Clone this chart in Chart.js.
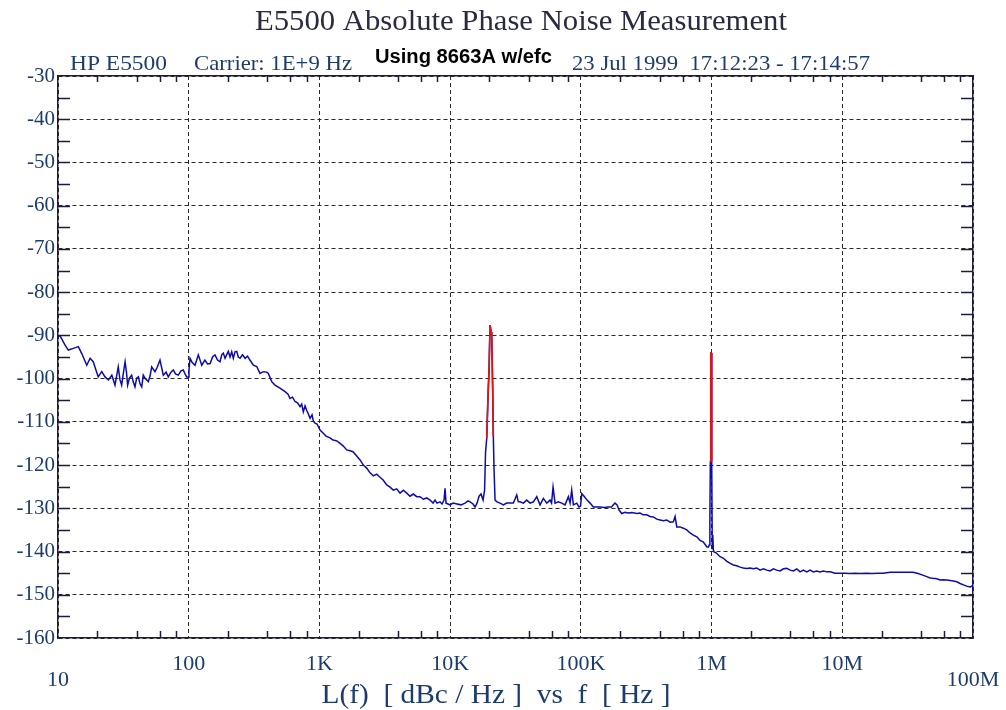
<!DOCTYPE html>
<html>
<head>
<meta charset="utf-8">
<title>E5500 Absolute Phase Noise Measurement</title>
<script src="https://cdn.jsdelivr.net/npm/chart.js@4.4.0/dist/chart.umd.min.js"></script>
<style>
    html, body { margin: 0; padding: 0; background: #ffffff; }
</style>
</head>
<body>
<canvas id="phase-noise-chart" width="1006" height="710"></canvas>
<script>
// offset frequency [Hz] and L(f) [dBc/Hz], one decade at a time
const traceFreq = [
    10, 10.4, 11.3, 12.0, 13.1, 14.3, 15.2, 16.6, 17.6, 18.6,
    20.3, 21.6, 22.9, 24.3, 25.8, 27.3, 28.9, 29.8, 30.7, 31.7,
    32.6, 33.4, 34.1, 35.2, 36.6, 37.7, 38.8, 40.0, 41.2, 42.4,
    43.7, 44.9, 46.3, 49.1, 50.6, 52.1, 55.2, 57.2, 60.3, 63.9,
    67.1, 69.8, 73.2, 76.2, 79.3, 83.2, 87.3, 90.9, 93.7, 96.5,
    99.3, 100.5,
    102.3, 106, 111.7, 118.4, 125.8, 133, 139.3, 146, 152.1, 158.9,
    166.1, 173.6, 178.9, 183.9, 189.6, 195, 200.9, 207, 213.3, 219.4,
    226.1, 232.9, 239.6, 247, 258, 270, 281.8, 294, 312.1, 331.4,
    351, 372.2, 395.3, 406.5, 431.5, 457, 499, 545.7, 575, 595.7,
    622.6, 650.7, 680, 711, 732, 753, 776, 799, 823, 848,
    878, 898, 925, 959, 1011,
    1066, 1123, 1205, 1271, 1357, 1438, 1524, 1617, 1715, 1807,
    1929, 2045, 2167, 2300, 2439, 2585, 2744, 2908, 3083, 3272,
    3468, 3677, 3903, 4136, 4385, 4655, 4934, 5230, 5551, 5885,
    6237, 6622, 7020, 7399, 7662, 7935, 8370, 8670, 8981, 9141,
    9303, 9637, 9982,
    10520, 11290, 12120, 13000, 13710, 14200, 14970, 15510, 16060, 16640,
    17240, 17860, 18340, 18660, 19050, 19500, 19840, 20200, 20560, 20810,
    21180, 21400, 21670, 22060, 22850, 24080, 25530, 27060, 28720, 30450,
    32330, 33240, 34250, 36320, 38550, 40870, 43340, 45970, 48730, 51660,
    54840, 58120, 59690, 61270, 63470, 67180, 71400, 75700, 80250, 82670,
    85110, 87620, 93020, 96880, 99470,
    101600, 105800, 111500, 117600, 124600, 133000, 140300, 150500, 161500, 171700,
    177300, 182600, 189200, 196000, 205500, 217900, 229600, 246500, 267700, 283800,
    299200, 319300, 338400, 358700, 380700, 403600, 427800, 454300, 481400, 510400,
    525900, 541800, 574100, 608400, 646000, 684600, 725600, 770300, 816600, 865700,
    918900, 945100, 960000, 970500, 979000, 984200, 989600, 994800, 1000000, 1005000,
    1012500, 1021400, 1032000, 1045000,
    1082000, 1161000, 1226000, 1302000, 1379000, 1468000, 1558000, 1652000, 1751000, 1859000,
    1970000, 2089000, 2216000, 2350000, 2490000, 2645000, 2802000, 2971000, 3154000, 3344000,
    3543000, 3761000, 3987000, 4226000, 4487000, 4754000, 5040000, 5351000, 5671000, 6009000,
    6380000, 6761000, 7166000, 7610000, 8066000, 8809000, 9618000, 10510000, 11470000, 12530000,
    13680000, 15400000, 16900000, 18790000, 20520000, 23210000, 25790000, 28680000, 31870000, 34810000,
    38010000, 40790000, 44320000, 46970000, 49500000, 52840000, 56000000, 59360000, 63040000, 66780000,
    70800000, 75160000, 79670000, 84400000, 89650000, 95000000, 98400000, 100000000
];
const traceDbc = [
    -90.1, -90.2, -92.2, -93.4, -93.0, -92.6, -94.2, -96.9, -95.3, -96.1,
    -99.6, -98.4, -99.6, -100.3, -99.2, -101.5, -97.3, -100.3, -101.5, -98.5,
    -96.1, -98.5, -101.5, -99.9, -99.2, -100.8, -101.9, -99.9, -99.6, -101.2,
    -101.9, -99.2, -99.9, -100.7, -99.4, -97.3, -98.4, -97.5, -95.7, -99.2,
    -98.5, -99.6, -98.5, -98.0, -98.9, -99.2, -98.2, -98.0, -98.9, -99.6,
    -99.6, -98.0,
    -95.3, -96.2, -96.9, -94.5, -96.9, -95.7, -96.6, -96.5, -95.0, -94.5,
    -95.7, -96.1, -94.5, -94.1, -95.3, -94.5, -93.7, -95.0, -93.8, -95.3,
    -93.8, -93.7, -95.0, -95.3, -94.5, -95.3, -94.8, -95.7, -96.9, -97.2,
    -98.8, -98.4, -98.5, -98.8, -100.7, -101.5, -102.2, -103.0, -103.6, -104.6,
    -104.3, -105.3, -105.6, -106.5, -105.9, -107.7, -106.3, -107.3, -108.2, -109.2,
    -108.4, -109.8, -110.3, -110.5, -111.9,
    -112.6, -113.3, -113.7, -114.2, -114.4, -115.0, -115.6, -116.5, -116.7, -116.9,
    -117.9, -118.8, -120.0, -120.7, -121.8, -122.5, -122.1, -122.8, -123.5, -124.6,
    -125.1, -125.8, -125.5, -126.5, -125.8, -126.5, -127.2, -126.7, -127.3, -127.3,
    -127.9, -127.6, -128.1, -128.8, -128.1, -128.8, -128.5, -129.0, -128.1, -125.4,
    -128.8, -129.0, -129.2,
    -128.8, -129.0, -129.2, -128.8, -128.3, -128.5, -129.0, -129.7, -128.8, -127.2,
    -126.7, -128.1, -125.8, -117.0, -113.8, -103.8, -98.0, -87.6, -89.2, -90.3,
    -103.3, -113.4, -121.1, -128.1, -128.5, -128.8, -129.2, -128.8, -128.8, -128.8,
    -126.9, -128.5, -128.5, -128.8, -128.1, -128.8, -128.5, -127.3, -129.2, -127.7,
    -128.8, -128.1, -128.8, -125.1, -128.8, -128.5, -128.8, -129.2, -127.3, -128.8,
    -125.8, -129.2, -128.8, -129.7, -129.5,
    -126.6, -127.2, -128.1, -128.8, -129.7, -129.7, -129.7, -129.8, -129.7, -129.7,
    -129.2, -128.8, -129.2, -130.4, -131.2, -130.9, -131.1, -131.0, -131.2, -131.1,
    -131.5, -131.5, -131.9, -132.0, -132.5, -132.7, -132.9, -132.7, -133.2, -133.1,
    -131.9, -134.3, -134.3, -134.6, -135.0, -135.7, -136.2, -136.6, -137.4, -137.8,
    -138.9, -139.0, -138.5, -132.7, -119.2, -104.9, -94.1, -94.1, -109.6, -119.2,
    -139.3, -136.2, -139.6, -140.1,
    -140.3, -141.2, -141.5, -142.2, -142.7, -143.1, -143.3, -143.6, -143.8, -143.9,
    -143.8, -144.0, -143.8, -144.3, -144.0, -144.3, -144.5, -144.0, -144.3, -144.5,
    -144.0, -143.9, -144.3, -144.5, -144.0, -144.7, -144.3, -144.7, -144.3, -144.7,
    -144.5, -144.7, -144.5, -144.7, -144.7, -145.0, -145.0, -145.0, -145.1, -145.0,
    -145.1, -145.0, -145.1, -145.0, -145.0, -144.8, -144.8, -144.8, -144.8, -144.8,
    -145.1, -145.4, -145.8, -146.1, -146.2, -146.3, -146.6, -146.5, -146.6, -146.7,
    -146.8, -147.0, -147.4, -147.7, -148.0, -148.2, -148.0, -147.5
];

// spurs (drawn red), null splits the two of them
const spurFreq = [19050, 19500, 19840, 20200, 20560, 20810, 21180, 21400, 100000,
                  979000, 984200, 989600, 994800, 1000000, 1005000];
const spurDbc = [-113.8, -103.8, -98.0, -87.6, -89.2, -90.3, -103.3, -113.4, null,
                 -119.2, -104.9, -94.1, -94.1, -109.6, -119.2];

const xTickValues = [10, 100, 1e3, 1e4, 1e5, 1e6, 1e7, 1e8];
const xTickLabels = ['10', '100', '1K', '10K', '100K', '1M', '10M', '100M'];
const yTickValues = [-160, -150, -140, -130, -120, -110, -100, -90, -80, -70, -60, -50, -40, -30];

const chartTitle = 'E5500 Absolute Phase Noise Measurement';
const headerLeft = ['HP E5500', 'Carrier: 1E+9 Hz'];
const headerNote = 'Using 8663A w/efc';
const headerDate = '23 Jul 1999  17:12:23 - 17:14:57';
const xAxisTitle = 'L(f)  [ dBc / Hz ]  vs  f  [ Hz ]';

const FRAME = '#1c1c3e';
const GRID = '#2b2b2b';
const LABEL_BLUE = '#1d3c6c';
const SERIF = '"Liberation Serif", "Times New Roman", serif';

// small inward ticks: 2,4,6,8 per decade on top/bottom, every 5 dB left/right
let xMinorTicks = [];
for (let d = 10; d < 1e8; d *= 10) {
    [2, 4, 6, 8].forEach(m => xMinorTicks.push(m * d));
}
let yMinorTicks = [];
for (let v = -155; v <= -35; v += 5) yMinorTicks.push(v);

const minorTicks = {
    id: 'minorTicks',
    beforeDatasetsDraw(chart) {
        const { ctx, chartArea, scales } = chart;
        ctx.save();
        ctx.strokeStyle = FRAME;
        ctx.lineWidth = 1.5;
        ctx.beginPath();
        xMinorTicks.forEach(v => {
            let x = Math.round(scales.x.getPixelForValue(v)) + 0.5;
            ctx.moveTo(x, chartArea.top);
            ctx.lineTo(x, chartArea.top + 6);
            ctx.moveTo(x, chartArea.bottom);
            ctx.lineTo(x, chartArea.bottom - 7);
        });
        yMinorTicks.forEach(v => {
            let y = Math.round(scales.y.getPixelForValue(v)) + 0.5;
            ctx.moveTo(chartArea.left, y);
            ctx.lineTo(chartArea.left + 12, y);
            ctx.moveTo(chartArea.right, y);
            ctx.lineTo(chartArea.right - 12, y);
        });
        ctx.stroke();
        ctx.restore();
    }
};

// the plotter font is wider than Liberation Serif, so stretch the text to its width
function stretchedText(ctx, text, x, y, width, align) {
    let natural = ctx.measureText(text).width;
    let sx = width / natural;
    let left = align === 'center' ? x - width / 2 : x;
    ctx.save();
    ctx.textAlign = 'left';
    ctx.translate(left, y);
    ctx.scale(sx, 1);
    ctx.fillText(text, 0, 0);
    ctx.restore();
}

const headerText = {
    id: 'headerText',
    afterDraw(chart) {
        const ctx = chart.ctx;
        ctx.save();
        ctx.textBaseline = 'alphabetic';

        ctx.fillStyle = '#2a2a40';
        ctx.font = '30px ' + SERIF;
        stretchedText(ctx, chartTitle, 521, 30, 532, 'center');

        ctx.fillStyle = LABEL_BLUE;
        ctx.font = '21px ' + SERIF;
        stretchedText(ctx, headerLeft[0], 70, 70, 97);
        stretchedText(ctx, headerLeft[1], 194, 70, 158);
        stretchedText(ctx, headerDate, 572, 70, 298);

        ctx.fillStyle = '#000000';
        ctx.font = 'bold 20px "Liberation Sans", Arial, sans-serif';
        stretchedText(ctx, headerNote, 375, 63, 177);

        ctx.fillStyle = LABEL_BLUE;
        ctx.font = '28px ' + SERIF;
        stretchedText(ctx, xAxisTitle, 496, 703, 349, 'center');
        ctx.restore();
    }
};

const ctx = document.getElementById('phase-noise-chart').getContext('2d');
const chart = new Chart(ctx, {
    type: 'line',
    data: {
        datasets: [
            {
                label: 'spurs',
                data: spurFreq.map((f, i) => ({ x: f, y: spurDbc[i] })),
                borderColor: '#e01414',
                borderWidth: 1.7,
                pointRadius: 0,
                tension: 0,
                spanGaps: false
            },
            {
                label: 'L(f)',
                data: traceFreq.map((f, i) => ({ x: f, y: traceDbc[i] })),
                borderColor: '#0c0ca8',
                borderWidth: 1.5,
                pointRadius: 0,
                tension: 0
            }
        ]
    },
    options: {
        responsive: false,
        animation: false,
        devicePixelRatio: 1,
        layout: { padding: 0 },
        scales: {
            x: {
                type: 'logarithmic',
                position: 'bottom',
                min: 10,
                max: 1e8,
                afterBuildTicks: scale => {
                    scale.ticks = xTickValues.map(v => ({ value: v }));
                },
                afterFit: scale => {
                    scale.height = 72;
                    // keep the end labels from shrinking the plot
                    scale.paddingLeft = 0;
                    scale.paddingRight = 0;
                },
                ticks: {
                    autoSkip: false,
                    maxRotation: 0,
                    padding: 19,
                    color: LABEL_BLUE,
                    font: { family: SERIF, size: 22, lineHeight: 0.7 },
                    callback: function(value, index) {
                        let label = xTickLabels[index];
                        // end labels sit one line lower
                        if (index === 0 || index === xTickLabels.length - 1) return ['', label];
                        return label;
                    }
                },
                grid: { color: GRID, lineWidth: 1, drawTicks: false },
                border: { display: true, color: FRAME, width: 1.5, dash: [4, 3] }
            },
            xTop: {
                type: 'logarithmic',
                position: 'top',
                min: 10,
                max: 1e8,
                afterFit: scale => { scale.height = 76; },
                ticks: { display: false },
                grid: { display: false },
                border: { display: true, color: FRAME, width: 1.5 }
            },
            y: {
                type: 'linear',
                position: 'left',
                min: -160,
                max: -30,
                afterBuildTicks: scale => {
                    scale.ticks = yTickValues.map(v => ({ value: v }));
                },
                afterFit: scale => { scale.width = 58; },
                ticks: {
                    padding: 3,
                    color: LABEL_BLUE,
                    font: { family: SERIF, size: 21 },
                    callback: value => value.toString()
                },
                grid: { color: GRID, lineWidth: 1, drawTicks: false },
                border: { display: true, color: FRAME, width: 1.5, dash: [4, 3] }
            },
            yRight: {
                type: 'linear',
                position: 'right',
                min: -160,
                max: -30,
                afterFit: scale => { scale.width = 33; },
                ticks: { display: false },
                grid: { display: false },
                border: { display: true, color: FRAME, width: 1.5 }
            }
        },
        plugins: {
            legend: { display: false },
            title: { display: false },
            tooltip: { enabled: false }
        }
    },
    plugins: [minorTicks, headerText]
});
</script>
</body>
</html>
